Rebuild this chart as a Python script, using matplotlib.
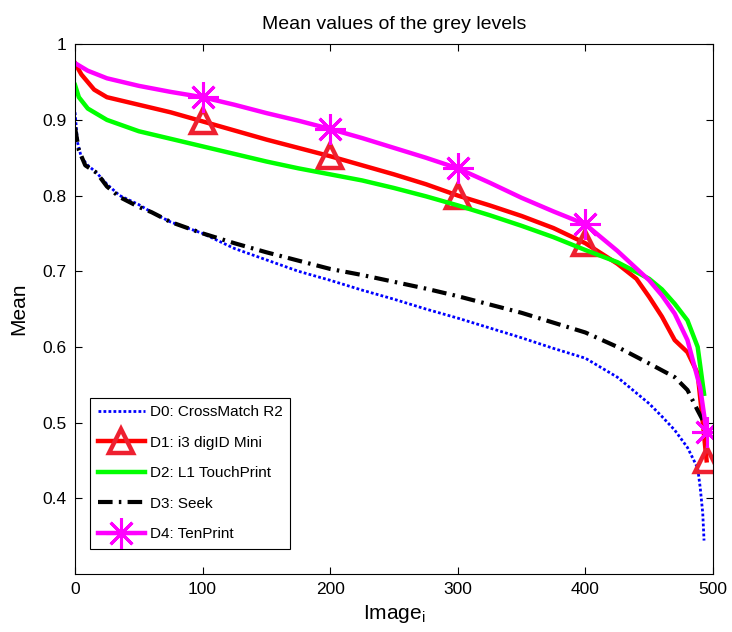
"""
Mean grey level curves for five fingerprint sensors (MATLAB-style plot)
"""
import matplotlib
matplotlib.use('Agg')
import matplotlib.pyplot as plt

plt.rcParams['font.family'] = ['Liberation Sans', 'DejaVu Sans']
plt.rcParams['mathtext.default'] = 'regular'

# values (image index -> mean grey level)
x_d0 = [0, 2, 5, 10, 17, 25, 35, 50, 60, 75, 100, 125, 150, 175, 200, 225, 250, 275, 300,
        325, 350, 375, 400, 425, 450, 460, 470, 480, 488, 490, 492, 493]
d0 = [0.91, 0.87, 0.85, 0.84, 0.83, 0.815, 0.80, 0.788, 0.778, 0.765, 0.75, 0.73, 0.715,
      0.70, 0.688, 0.675, 0.663, 0.65, 0.638, 0.625, 0.612, 0.598, 0.585, 0.56, 0.525,
      0.508, 0.49, 0.467, 0.44, 0.414, 0.38, 0.344]

x_d1 = [0, 5, 10, 15, 25, 50, 75, 100, 125, 150, 175, 200, 225, 250, 275, 300, 325, 350,
        375, 400, 425, 440, 450, 460, 470, 480, 488, 492, 495]
d1 = [0.975, 0.96, 0.95, 0.94, 0.93, 0.92, 0.91, 0.898, 0.886, 0.874, 0.863, 0.852, 0.84,
      0.828, 0.815, 0.80, 0.787, 0.773, 0.757, 0.737, 0.71, 0.69, 0.666, 0.64, 0.609,
      0.593, 0.565, 0.50, 0.45]

x_d2 = [0, 3, 10, 25, 50, 75, 100, 125, 150, 175, 200, 225, 250, 275, 300, 325, 350, 375,
        400, 425, 450, 460, 470, 480, 488, 493]
d2 = [0.946, 0.93, 0.915, 0.90, 0.885, 0.875, 0.865, 0.855, 0.845, 0.836, 0.828, 0.82,
      0.81, 0.799, 0.787, 0.774, 0.76, 0.745, 0.728, 0.712, 0.69, 0.676, 0.657, 0.635,
      0.60, 0.538]

x_d3 = [0, 3, 8, 17, 25, 35, 50, 60, 75, 100, 125, 150, 175, 200, 225, 250, 275, 300, 325,
        350, 375, 400, 425, 450, 470, 480, 488, 493]
d3 = [0.89, 0.86, 0.84, 0.83, 0.812, 0.798, 0.785, 0.778, 0.765, 0.75, 0.737, 0.725, 0.714,
      0.703, 0.695, 0.686, 0.677, 0.667, 0.656, 0.645, 0.632, 0.619, 0.60, 0.578, 0.56,
      0.543, 0.516, 0.50]

x_d4 = [0, 10, 25, 50, 75, 100, 125, 150, 175, 200, 225, 250, 275, 300, 325, 350, 375,
        400, 425, 450, 460, 470, 480, 490, 495]
d4 = [0.975, 0.965, 0.955, 0.945, 0.937, 0.93, 0.92, 0.909, 0.899, 0.888, 0.876, 0.863,
      0.85, 0.836, 0.817, 0.797, 0.779, 0.762, 0.727, 0.688, 0.668, 0.644, 0.609, 0.546,
      0.487]

marker_x = [100, 200, 300, 400, 495]

labels = ['D0: CrossMatch R2', 'D1: i3 digID Mini', 'D2: L1 TouchPrint',
          'D3: Seek', 'D4: TenPrint']

fig = plt.figure(figsize=(7.32, 6.32), dpi=100)
ax = fig.add_axes([0.1025, 0.092, 0.8715, 0.838])

ax.plot(x_d0, d0, color='#0000ff', linestyle=(0, (1.0, 0.8)), linewidth=2.0, label=labels[0])
ax.plot(x_d1, d1, color='#ff0000', linestyle='-', linewidth=3.2, label=labels[1],
        marker='^', markersize=17, markerfacecolor='none', markeredgecolor='#ee2030',
        markeredgewidth=3.2, markevery=[x_d1.index(m) for m in marker_x])
ax.plot(x_d2, d2, color='#00ff00', linestyle='-', linewidth=3.2, label=labels[2])
ax.plot(x_d3, d3, color='black', linestyle=(0, (3.5, 1.5, 0.6, 1.5)), linewidth=3.0,
        label=labels[3])
ax.plot(x_d4, d4, color='#ff00ff', linestyle='-', linewidth=3.2, label=labels[4],
        marker=(8, 2, 0), markersize=22, markeredgewidth=2.2,
        markevery=[x_d4.index(m) for m in marker_x])

ax.set_xlim(0, 500)
ax.set_ylim(0.3, 1.0)
ax.set_xticks([0, 100, 200, 300, 400, 500])
ax.set_yticks([0.4, 0.5, 0.6, 0.7, 0.8, 0.9, 1.0])
ax.set_yticklabels(['0.4', '0.5', '0.6', '0.7', '0.8', '0.9', '1'])
ax.tick_params(direction='in', length=5, width=0.8, labelsize=12.5, top=True, right=True,
               labeltop=False, labelright=False, pad=6)
for s in ax.spines.values():
    s.set_linewidth(0.8)

ax.set_title('Mean values of the grey levels', fontsize=14, pad=11)
ax.set_xlabel('Image$_i$', fontsize=15, labelpad=4)
ax.set_ylabel('Mean', fontsize=15, labelpad=10)

leg = ax.legend(loc='lower left', bbox_to_anchor=(0.0235, 0.047), borderaxespad=0,
                fontsize=11, handlelength=3.1, borderpad=0.5, labelspacing=1.08,
                handletextpad=0.3, fancybox=False, edgecolor='black', framealpha=1)
leg.get_frame().set_linewidth(0.8)

fig.savefig('out.png', dpi=100)
